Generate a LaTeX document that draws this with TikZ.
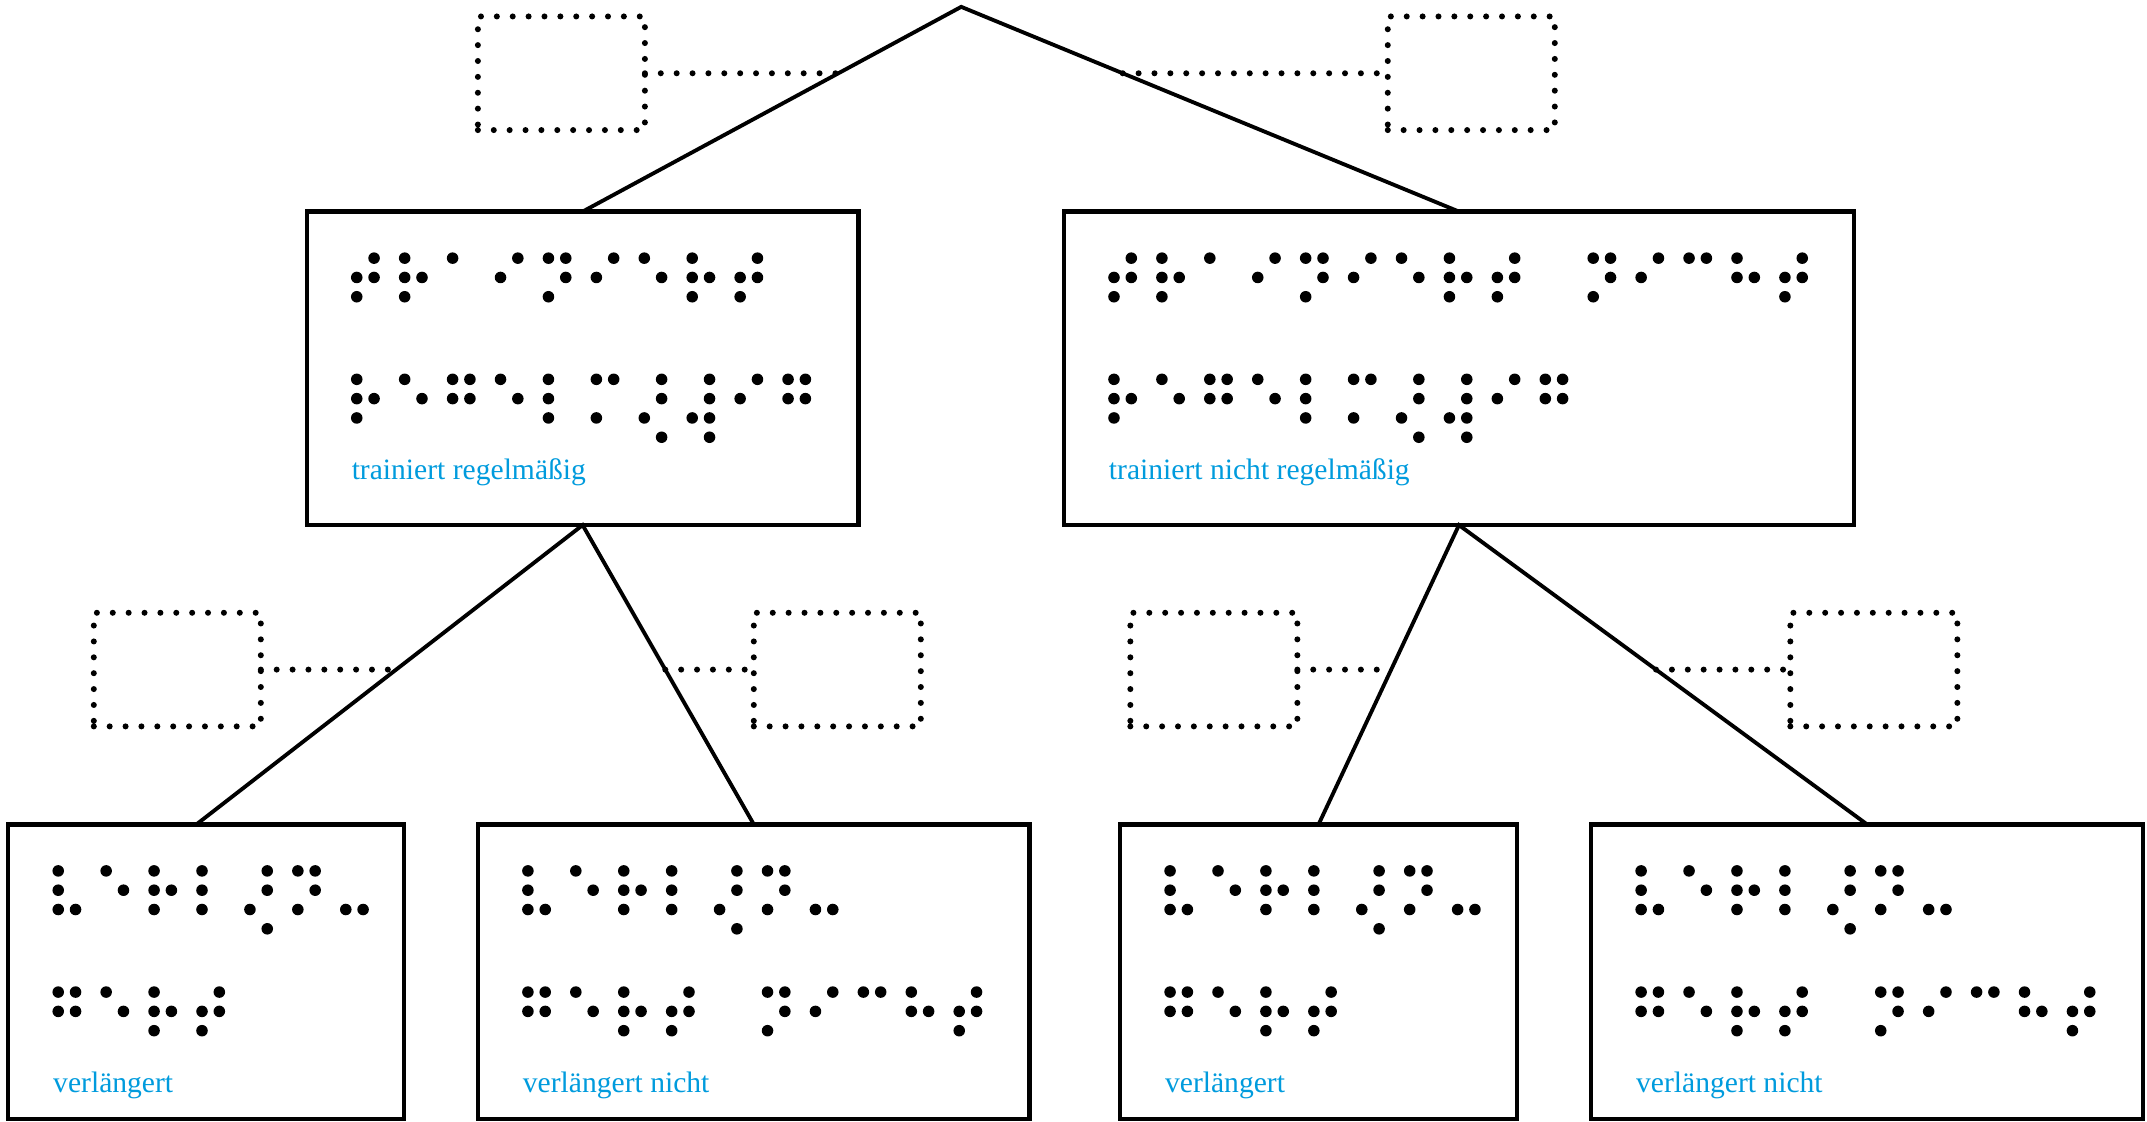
\documentclass[tikz,border=0pt]{standalone}
\usepackage{fontspec}
\setmainfont{Liberation Serif}
\usepackage{xcolor}
\usepackage{tikz}
\usetikzlibrary{calc}

\definecolor{labelblue}{RGB}{0,155,221}

% one line of 8-dot braille: box, top offset, cells (dot numbers, 0 = blank)
\newcommand{\brailleline}[3]{%
  \foreach \cell [count=\k from 0] in {#3}{
    \foreach \dt in \cell {
      \ifnum\dt>0
        \pgfmathsetmacro{\bx}{36.5+35*\k+12.65*{0,0,0,1,1,1,0,1}[\dt-1]}
        \pgfmathsetmacro{\by}{#2+14.1*{0,1,2,0,1,2,3,3}[\dt-1]}
        \fill ($(#1.north west)+(\bx,\by)$) circle[radius=2.4pt];
      \fi
    }
  }
}

\begin{document}
\begin{tikzpicture}[
  x=0.02cm, y=-0.02cm,
  box/.style={rectangle,draw,line width=1.8pt,outer sep=0pt,inner sep=0pt,minimum height=4.58cm},
  slot/.style={rectangle,draw,line width=2.5pt,line cap=round,dash pattern=on 0pt off 6.6pt,
    outer sep=0pt,minimum width=2.44cm,minimum height=1.66cm},
  dotline/.style={line width=2.5pt,line cap=round,dash pattern=on 0pt off 6.6pt},
  branch/.style={line width=1.6pt},
  lbl/.style={anchor=base west,inner sep=0pt,text=labelblue,font=\fontsize{12.3}{14}\selectfont}
]
\useasboundingbox (0,0) rectangle (1568,819);

\coordinate (root) at (702,5);
\node[box,minimum width=8.06cm] (reg) at (425.5,269) {};
\node[box,minimum width=11.54cm] (nreg) at (1065.5,269) {};
\node[box,minimum width=5.78cm,minimum height=4.3cm] (rv) at (150.5,709.5) {};
\node[box,minimum width=8.06cm,minimum height=4.3cm] (rn) at (550.5,709.5) {};
\node[box,minimum width=5.8cm,minimum height=4.3cm] (nv) at (963,709.5) {};
\node[box,minimum width=8.06cm,minimum height=4.3cm] (nn) at (1363.5,709.5) {};

\node[slot] (preg) at (410,53.5) {};
\node[slot] (pnreg) at (1074.5,53.5) {};
\node[slot] (prv) at (129.5,489) {};
\node[slot] (prn) at (611.5,489) {};
\node[slot] (pnv) at (886.5,489) {};
\node[slot] (pnn) at (1368.5,489) {};

\draw[branch] (reg.north) -- (root) -- (nreg.north);
\draw[branch] ([xshift=-0.14cm]rv.north) -- (reg.south) -- (rn.north);
\draw[branch] (nv.north) -- (nreg.south) -- (nn.north);

\draw[dotline] (preg.east) -- (intersection of preg.east--pnreg.west and root--reg.north);
\draw[dotline] (intersection of preg.east--pnreg.west and root--nreg.north) -- (pnreg.west);
\draw[dotline] (prv.east) -- (intersection of prv.east--prn.west and reg.south--rv.north);
\draw[dotline] (intersection of prv.east--prn.west and reg.south--rn.north) -- (prn.west);
\draw[dotline] (pnv.east) -- (intersection of pnv.east--pnn.west and nreg.south--nv.north);
\draw[dotline] (intersection of pnv.east--pnn.west and nreg.south--nn.north) -- (pnn.west);

% braille
\brailleline{reg}{34}{{2,3,4,5},{1,2,3,5},{1},{2,4},{1,3,4,5},{2,4},{1,5},{1,2,3,5},{2,3,4,5}}
\brailleline{reg}{122.5}{{1,2,3,5},{1,5},{1,2,4,5},{1,5},{1,2,3},{1,3,4},{3,4,5,8},{3,4,5,6,8},{2,4},{1,2,4,5}}
\brailleline{nreg}{34}{{2,3,4,5},{1,2,3,5},{1},{2,4},{1,3,4,5},{2,4},{1,5},{1,2,3,5},{2,3,4,5},{0},{1,3,4,5},{2,4},{1,4},{1,2,5},{2,3,4,5}}
\brailleline{nreg}{122.5}{{1,2,3,5},{1,5},{1,2,4,5},{1,5},{1,2,3},{1,3,4},{3,4,5,8},{3,4,5,6,8},{2,4},{1,2,4,5}}
\foreach \b in {rv,rn,nv,nn}
  \brailleline{\b}{34}{{1,2,3,6},{1,5},{1,2,3,5},{1,2,3},{3,4,5,8},{1,3,4,5},{3,6}};
\foreach \b in {rv,nv}
  \brailleline{\b}{122.5}{{1,2,4,5},{1,5},{1,2,3,5},{2,3,4,5}};
\foreach \b in {rn,nn}
  \brailleline{\b}{122.5}{{1,2,4,5},{1,5},{1,2,3,5},{2,3,4,5},{0},{1,3,4,5},{2,4},{1,4},{1,2,5},{2,3,4,5}};

% labels
\node[lbl] (treg) at ($(reg.north west)+(32.5,195.5)$) {trainiert regelmäßig};
\node[lbl] (tnreg) at ($(nreg.north west)+(32.5,195.5)$) {trainiert nicht regelmäßig};
\node[lbl] (trv) at ($(rv.north west)+(32.5,195.5)$) {verlängert};
\node[lbl] (trn) at ($(rn.north west)+(32.5,195.5)$) {verlängert nicht};
\node[lbl] (tnv) at ($(nv.north west)+(32.5,195.5)$) {verlängert};
\node[lbl] (tnn) at ($(nn.north west)+(32.5,195.5)$) {verlängert nicht};
\end{tikzpicture}
\end{document}
